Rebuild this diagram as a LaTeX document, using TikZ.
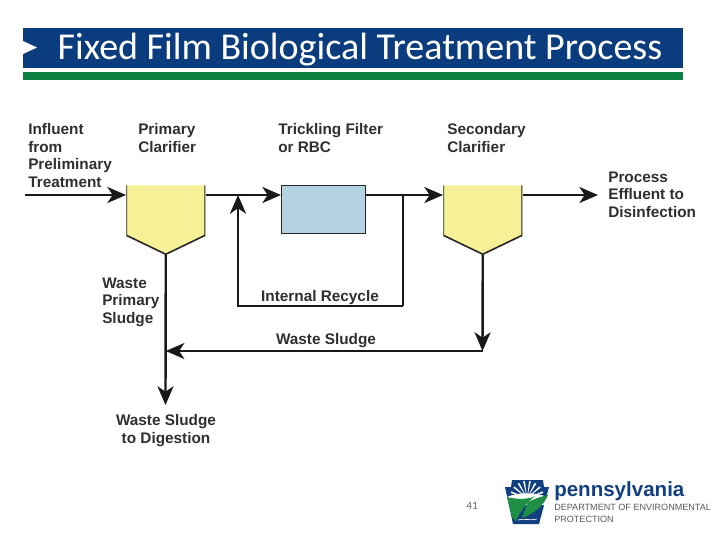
\documentclass[tikz,border=0pt]{standalone}
\usepackage{fontspec}
\setmainfont{Liberation Sans}
\newfontfamily\titlefont{Carlito}
\usetikzlibrary{arrows.meta, positioning}
\definecolor{headblue}{HTML}{0B3C7D}
\definecolor{headgreen}{HTML}{0B8040}
\definecolor{tankyellow}{HTML}{F6F197}
\definecolor{filterblue}{HTML}{B3D3E3}
\definecolor{labelgray}{HTML}{2F2F2F}
\definecolor{logoblue}{HTML}{123F7F}
\definecolor{logogreen}{HTML}{1E8F45}
\tikzset{
  flow/.style = {line width = 1.8pt, color = black!90, -{Stealth[length=14pt, width=12pt, inset=4pt]}},
  plainflow/.style = {line width = 1.8pt, color = black!90},
  lbl/.style = {font = \bfseries\fontsize{11.5}{13.1}\selectfont, text = labelgray, align = left, inner sep = 0pt},
  tank/.style = {minimum width = 59.25pt, minimum height = 51.75pt, inner sep = 0pt, path picture = {
    \fill[tankyellow] (path picture bounding box.north west) -- (path picture bounding box.north east) -- ([yshift=14.25pt]path picture bounding box.south east) -- (path picture bounding box.south) -- ([yshift=14.25pt]path picture bounding box.south west) -- cycle;
    \draw[line width = 1.2pt, black!85] (path picture bounding box.north west) -- ([yshift=14.25pt]path picture bounding box.south west) -- (path picture bounding box.south) -- ([yshift=14.25pt]path picture bounding box.south east) -- (path picture bounding box.north east);
  }}
}
\begin{document}
\begin{tikzpicture}[x = 0.75pt, y = 0.75pt]
\useasboundingbox (0,0) rectangle (720,-540);
% header
\node[fill = headblue, minimum width = 495pt, minimum height = 30pt, inner sep = 0pt, anchor = north west] (head) at (23,-28) {};
\node[fill = headgreen, minimum width = 495pt, minimum height = 6pt, inner sep = 0pt, anchor = north west] (bar) at (23,-72) {};
\fill[white] (23,-41) -- (37,-47.5) -- (23,-54) -- cycle;
\node[font = \titlefont\fontsize{28.5}{32}\selectfont, text = white, inner sep = 0pt] (title) at (360,-49.5) {Fixed Film Biological Treatment Process};
% tanks
\node[tank, anchor = north west] (prim) at (126,-185) {};
\node[draw = black!85, line width = 1pt, fill = filterblue, minimum width = 63pt, minimum height = 36pt, inner sep = 0pt, anchor = north west] (filt) at (281,-185) {};
\node[tank, anchor = north west] (sec) at (443,-185) {};
% free ends of the lines
\coordinate (infl) at (25,-195);
\coordinate (effl) at (598,-195);
\coordinate (recleft) at (238,-306);
\coordinate (recright) at (403,-306);
\coordinate (wastecorner) at (482.5,-351);
\coordinate (digest) at (165.5,-405);
% labels
\node[lbl, anchor = north west] (linfl) at (28,-123.5) {Influent\\from\\Preliminary\\Treatment};
\node[lbl, anchor = north west] (lprim) at (138,-123.5) {Primary\\Clarifier};
\node[lbl, anchor = north west] (lfilt) at (278,-123.5) {Trickling Filter\\or RBC};
\node[lbl, anchor = north west] (lsec) at (447,-123.5) {Secondary\\Clarifier};
\node[lbl, anchor = north west] (leffl) at (608,-171.5) {Process\\Effluent to\\Disinfection};
\node[lbl, anchor = north west] (lwaste) at (102,-277.5) {Waste\\Primary\\Sludge};
\node[lbl, align = center, anchor = north] (ldig) at (166,-414.5) {Waste Sludge\\to Digestion};
\node[lbl] (lrec) at (320,-298) {Internal Recycle};
\node[lbl] (lsl) at (326,-340.5) {Waste Sludge};
% connectors
\draw[flow] (infl) -- (infl -| prim.west);
\draw[flow] (infl -| prim.east) -- (infl -| filt.west);
\draw[flow] (infl -| filt.east) -- (infl -| sec.west);
\draw[flow] (infl -| sec.east) -- (effl);
\draw[flow] (recright) -- (recleft) -- (recleft |- infl);
\draw[plainflow] (infl -| recright) -- (recright);
\draw[flow] (sec.south) -- (wastecorner);
\draw[flow, line width = 1.4pt] (wastecorner) -- (wastecorner -| prim.south);
\draw[flow] (prim.south) -- (digest);
% logo
\fill[logoblue] (512,-480) -- (543,-480) -- (544,-487) -- (549,-487) -- (539,-524) -- (513,-524) -- (505,-487) -- (511,-487) -- cycle;
\foreach \ang in {20,40,...,160}
  \fill[white] (527,-498) -- ++(\ang-3:17) -- ++(\ang+90:1.8) -- cycle;
\fill[white] (507,-497) .. controls (518,-492) and (536,-492) .. (547,-497) -- (545,-505) -- (511,-505) -- cycle;
\fill[logogreen] (507,-497) .. controls (518,-500) and (530,-499) .. (535,-496) .. controls (526,-503) and (520,-512) .. (516,-521) -- (512,-517) -- cycle;
\fill[logogreen] (528,-502) .. controls (536,-498) and (543,-496) .. (548,-495) .. controls (544,-505) and (534,-514) .. (522,-518) .. controls (524,-512) and (526,-507) .. (528,-502) -- cycle;
\draw[white, line width = 0.5pt] (518,-520) .. controls (524,-518) and (530,-521) .. (537,-519);
\node[font = \bfseries\fontsize{15.4}{17}\selectfont, text = logoblue, inner sep = 0pt, anchor = west] (lpa) at (554,-491) {pennsylvania};
\node[font = \fontsize{6.8}{9}\selectfont, text = black!65, align = left, inner sep = 0pt, anchor = north west] (ldep) at (554,-504) {DEPARTMENT OF ENVIRONMENTAL\\PROTECTION};
\node[font = \titlefont\fontsize{8.5}{10}\selectfont, text = black!60, inner sep = 0pt] (pageno) at (472,-506) {41};
\end{tikzpicture}
\end{document}
